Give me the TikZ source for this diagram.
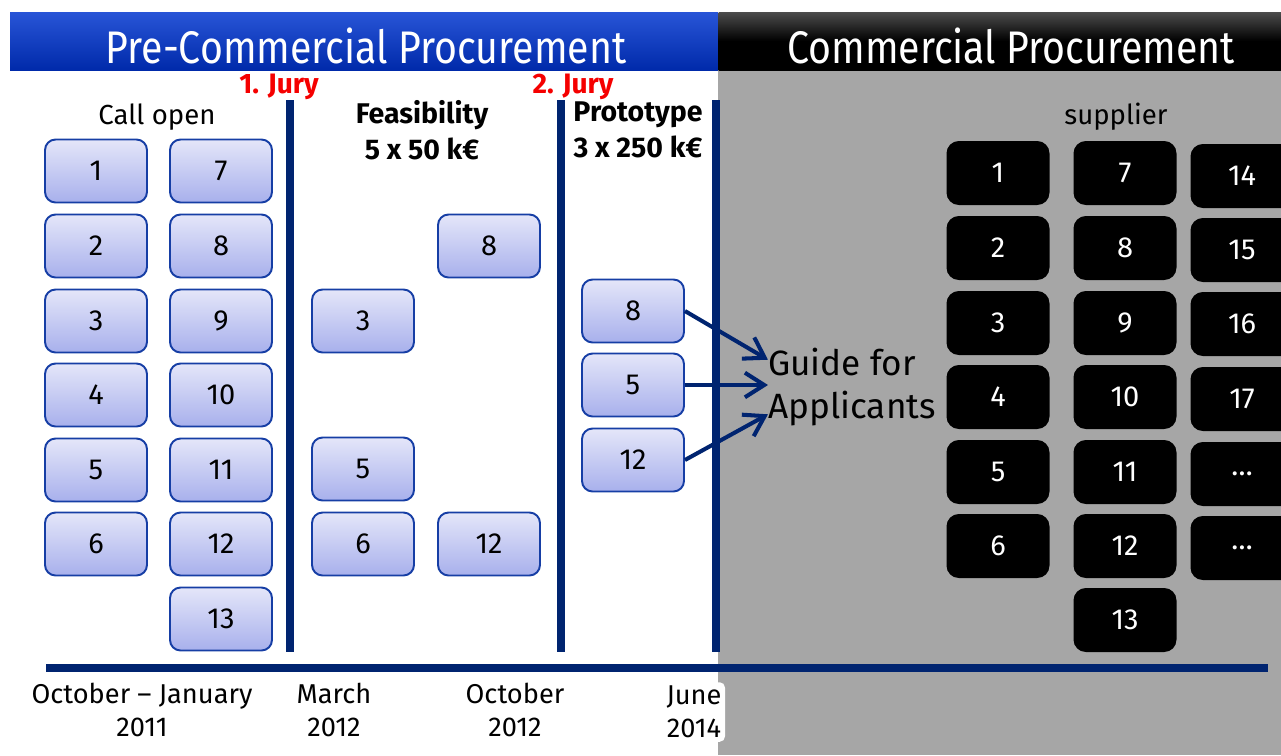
\documentclass[tikz,border=0pt]{standalone}
\usepackage{fontspec}
\setmainfont{Fira Sans}
\newfontfamily\headfont[FakeStretch=0.86]{Fira Sans}
\usetikzlibrary{arrows.meta}
\definecolor{navy}{RGB}{0,36,112}
\definecolor{pcptop}{RGB}{40,85,215}
\definecolor{pcpbot}{RGB}{0,42,170}
\definecolor{cpgrey}{RGB}{166,166,166}
\definecolor{boxtop}{RGB}{228,230,249}
\definecolor{boxbot}{RGB}{168,176,236}
\definecolor{boxedge}{RGB}{22,62,165}
\definecolor{juryred}{RGB}{245,0,0}
\tikzset{
  bidbox/.style={rounded corners=6pt,draw=boxedge,line width=1.1pt,
    top color=boxtop,bottom color=boxbot,minimum width=2.04cm,
    minimum height=1.26cm,font=\fontsize{16.5}{18}\selectfont},
  supbox/.style={rounded corners=7pt,fill=black,text=white,
    minimum width=2.06cm,minimum height=1.28cm,
    font=\fontsize{16.5}{18}\selectfont},
  phase/.style={line width=4pt,navy},
  head/.style={minimum height=1.16cm,inner sep=0pt},
  headtext/.style={text=white,inner sep=0pt,font=\headfont\fontsize{26}{28}\selectfont},
  jury/.style={inner sep=0pt,text=juryred,font=\fontsize{16}{18}\selectfont\bfseries},
  datelbl/.style={align=center,fill=white,rounded corners=3pt,inner sep=2pt,
    font=\fontsize{15.5}{19}\selectfont},
}

\begin{document}
\begin{tikzpicture}[x=0.02cm,y=-0.02cm,>={Straight Barb[length=11pt,width=14pt]}]
  \useasboundingbox (0,0) rectangle (1281,755);
  \fill[cpgrey] (718,70) rectangle (1281,755);
  % headers
  \node[head,top color=pcptop,bottom color=pcpbot,minimum width=14.16cm]
    (pcp) at (364,41) {};
  \node[head,top color=black!70,bottom color=black,middle color=black,
    minimum width=11.26cm] (cp) at (1000,41) {};
  \node[headtext] (pcptext) at (366,46) {Pre-Commercial Procurement};
  \node[headtext] (cptext) at (1011,46) {Commercial Procurement};
  % jury lines and time axis
  \draw[phase] (290,100) -- (290,652);
  \draw[phase] (561,100) -- (561,652);
  \draw[phase] (716,100) -- (716,652);
  \draw[line width=4.5pt,navy] (46,668) -- (1268,668);
  \node[jury] (j1) at (279,87) {1. Jury};
  \node[jury] (j2) at (573,87) {2. Jury};
  \node[font=\fontsize{15.7}{17}\selectfont] (call) at (157,117) {Call open};
  \node[font=\fontsize{16.2}{20.5}\selectfont\bfseries,align=center] (feas) at (422,130)
    {Feasibility\\5 x 50 k€};
  \node[font=\fontsize{16.2}{20.5}\selectfont\bfseries,align=center] (proto) at (638,130)
    {Prototype\\3 x 250 k€};
  \node[font=\fontsize{15.7}{17}\selectfont] (sup) at (1116,117) {supplier};
  % call open
  \foreach \n/\y in {1/171,2/246,3/321,4/395,5/470,6/544}
    \node[bidbox] (a\n) at (96,\y) {\n};
  \foreach \n/\y in {7/171,8/246,9/321,10/395,11/470,12/544,13/619}
    \node[bidbox] (a\n) at (221,\y) {\n};
  % feasibility
  \node[bidbox] (f3) at (363,321) {3};
  \node[bidbox] (f5) at (363,469) {5};
  \node[bidbox] (f6) at (363,544) {6};
  \node[bidbox] (f8) at (489,246) {8};
  \node[bidbox] (f12) at (489,544) {12};
  % prototype
  \node[bidbox] (p8) at (633,311) {8};
  \node[bidbox] (p5) at (633,385) {5};
  \node[bidbox] (p12) at (633,460) {12};
  \node[align=left,inner sep=0pt,font=\fontsize{20}{25}\selectfont] (guide)
    at (852,387) {Guide for\\Applicants};
  \draw[->,line width=2.3pt,navy] (p8.east) -- (guide.162);
  \draw[->,line width=2.3pt,navy] (p5.east) -- (p5.east -| guide.west);
  \draw[->,line width=2.3pt,navy] (p12.east) -- (guide.198);
  % suppliers
  \foreach \n/\y in {1/173,2/248,3/323,4/397,5/472,6/546}
    \node[supbox] (s\n) at (998,\y) {\n};
  \foreach \n/\y in {7/173,8/248,9/323,10/397,11/472,12/546,13/620}
    \node[supbox] (s\n) at (1125,\y) {\n};
  \foreach \n/\t/\y in {14/14/176,15/15/250,16/16/324,17/17/399,18/…/474,19/…/548}
    \node[supbox] (s\n) at (1242,\y) {\t};
  % dates
  \node[datelbl] (d1) at (142,710) {October – January\\2011};
  \node[datelbl] (d2) at (334,710) {March\\2012};
  \node[datelbl] (d3) at (515,710) {October\\2012};
  \node[datelbl] (d4) at (694,712) {June\\2014};
\end{tikzpicture}
\end{document}
